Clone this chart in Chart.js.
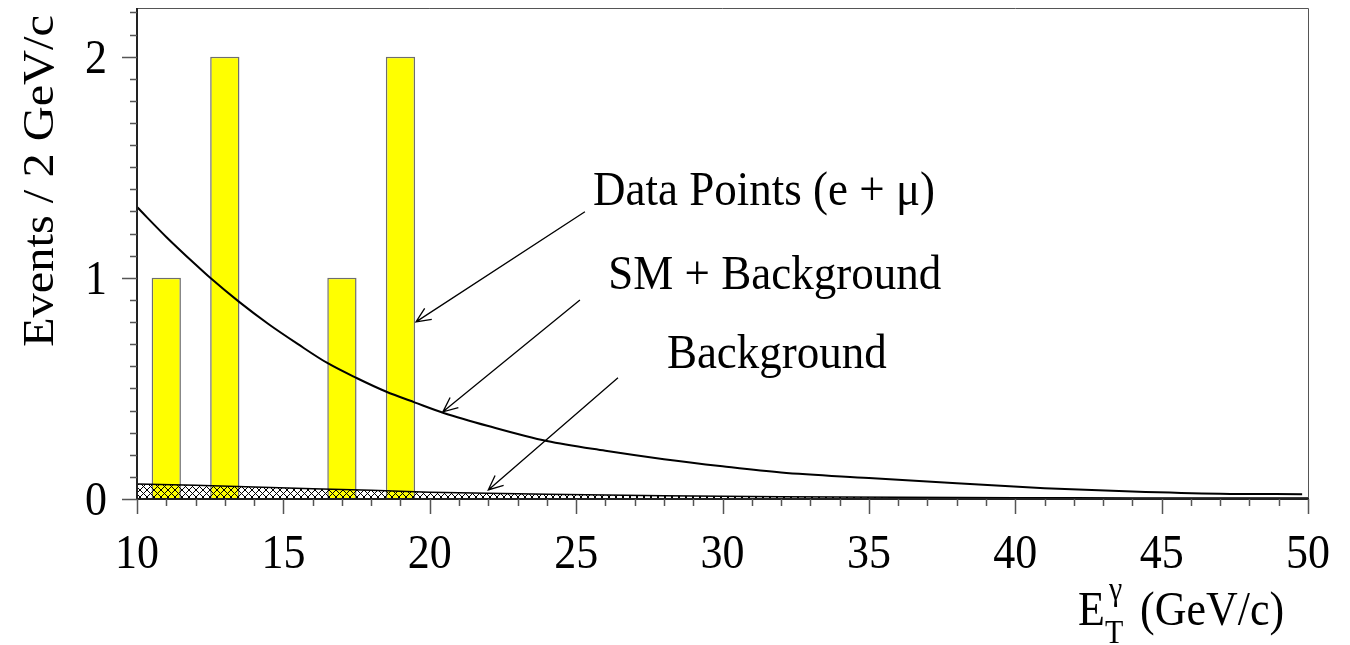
<!DOCTYPE html>
<html>
<head>
<meta charset="utf-8">
<script src="https://cdn.jsdelivr.net/npm/chart.js@4.4.1/dist/chart.umd.min.js"></script>
<style>
  html, body { margin: 0; padding: 0; background: #fff; }
  #wrap { width: 1350px; height: 645px; }
</style>
</head>
<body>
<div id="wrap"><canvas id="plot" width="1350" height="645"></canvas></div>
<script>
// --- data ---
const binCenters = [11, 13, 17, 19];
const eventCounts = [1, 2, 1, 2];

// SM + background expectation (solid curve)
const smX = [10, 11, 12, 12.5, 13.5, 14.5, 15.5, 16.5, 17.5, 18.5, 19.5, 20.5, 22, 24, 26, 28, 30, 32, 35, 38, 41, 44, 47, 49.8];
const smY = [1.32, 1.185, 1.06, 1.0, 0.89, 0.79, 0.70, 0.615, 0.547, 0.486, 0.436, 0.388, 0.33, 0.262, 0.218, 0.18, 0.148, 0.12, 0.095, 0.071, 0.049, 0.034, 0.024, 0.022];

// background only (hatched)
const bgX = [10, 12, 14, 16, 18, 20, 22, 24, 26, 28, 30, 32, 34, 36, 38, 40, 42, 44, 46, 48, 50];
const bgY = [0.068, 0.062, 0.054, 0.046, 0.039, 0.031, 0.026, 0.021, 0.018, 0.015, 0.012, 0.010, 0.009, 0.008, 0.007, 0.006, 0.006, 0.005, 0.005, 0.005, 0.005];

const xMin = 10, xMax = 50, yMin = 0, yMax = 2.22;
const xTickLabels = [10, 15, 20, 25, 30, 35, 40, 45, 50];
const yTickLabels = [0, 1, 2];

// labels with arrows (data coordinates)
const noteText = ['Data Points (e + \u03bc)', 'SM + Background', 'Background'];
const noteAt = [[25.58, 1.33], [26.1, 0.95], [28.1, 0.593]];
const arrowFrom = [[25.3, 1.299], [25.13, 0.90], [26.43, 0.548]];
const arrowTo = [[19.53, 0.801], [20.45, 0.394], [22.0, 0.041]];

const serif = '"Liberation Serif", "Times New Roman", serif';
const stretch = 1.1; // glyphs in the original are a bit taller than wide

// cross-hatch pattern for the background histogram
function makeHatch() {
    const c = document.createElement('canvas');
    c.width = 7; c.height = 7;
    const g = c.getContext('2d');
    g.strokeStyle = '#000';
    g.lineWidth = 1;
    g.beginPath();
    g.moveTo(0, 0); g.lineTo(7, 7);
    g.moveTo(7, 0); g.lineTo(0, 7);
    g.stroke();
    return document.getElementById('plot').getContext('2d').createPattern(c, 'repeat');
}

function txt(ctx, s, x, y, size, align, rot) {
    ctx.save();
    ctx.translate(x, y);
    ctx.scale(1, stretch);
    if (rot) ctx.rotate(rot);
    ctx.font = size + 'px ' + serif;
    ctx.textAlign = align || 'left';
    ctx.textBaseline = 'alphabetic';
    ctx.fillText(s, 0, 0);
    ctx.restore();
}

const decorPlugin = {
    id: 'decor',
    afterDraw(chart) {
        const ctx = chart.ctx;
        const xs = chart.scales.x, ys = chart.scales.y;
        const a = chart.chartArea;
        ctx.save();

        // frame
        ctx.strokeStyle = '#555';
        ctx.lineWidth = 1;
        ctx.beginPath();
        ctx.moveTo(a.left, a.top + 0.5); ctx.lineTo(a.right + 0.5, a.top + 0.5);
        ctx.lineTo(a.right + 0.5, a.bottom);
        ctx.stroke();
        ctx.strokeStyle = '#222';
        ctx.lineWidth = 2;
        ctx.beginPath();
        ctx.moveTo(a.left, a.top); ctx.lineTo(a.left, a.bottom);
        ctx.lineTo(a.right + 1, a.bottom);
        ctx.stroke();

        // x ticks: major every 5, minor every 1, pointing down
        ctx.strokeStyle = '#555';
        ctx.lineWidth = 1.5;
        ctx.beginPath();
        for (let v = xMin; v <= xMax; v++) {
            const px = Math.round(xs.getPixelForValue(v)) + 0.5;
            const len = (v % 5 === 0) ? 15 : 7;
            ctx.moveTo(px, a.bottom); ctx.lineTo(px, a.bottom + len);
        }
        // y ticks: major every 1, minor every 0.1, pointing left
        for (let i = 0; i * 0.1 <= yMax + 1e-9; i++) {
            const py = Math.round(ys.getPixelForValue(i * 0.1)) + 0.5;
            const len = (i % 10 === 0) ? 15 : 7;
            ctx.moveTo(a.left, py); ctx.lineTo(a.left - len, py);
        }
        ctx.stroke();

        // tick labels
        ctx.fillStyle = '#000';
        xTickLabels.forEach(v => txt(ctx, String(v), xs.getPixelForValue(v), 568, 44, 'center'));
        yTickLabels.forEach(v => txt(ctx, String(v), a.left - 30, ys.getPixelForValue(v) + 16, 44, 'right'));

        // y title
        txt(ctx, 'Events / 2 GeV/c', 53, 15, 44, 'right', -Math.PI / 2);

        // x title: E_T^gamma (GeV/c)
        txt(ctx, 'E', 1078, 625, 44);
        txt(ctx, '\u03b3', 1109, 600, 30);
        txt(ctx, 'T', 1105, 643, 30);
        txt(ctx, '(GeV/c)', 1140, 625, 44);

        // notes with arrows
        ctx.lineWidth = 1.3;
        ctx.strokeStyle = '#000';
        for (let i = 0; i < noteText.length; i++) {
            txt(ctx, noteText[i], xs.getPixelForValue(noteAt[i][0]), ys.getPixelForValue(noteAt[i][1]), 45);

            const x0 = xs.getPixelForValue(arrowFrom[i][0]);
            const y0 = ys.getPixelForValue(arrowFrom[i][1]);
            const x1 = xs.getPixelForValue(arrowTo[i][0]);
            const y1 = ys.getPixelForValue(arrowTo[i][1]);
            const ang = Math.atan2(y1 - y0, x1 - x0);
            const h = 16, spread = 0.42;
            ctx.beginPath();
            ctx.moveTo(x0, y0); ctx.lineTo(x1, y1);
            ctx.moveTo(x1 - h * Math.cos(ang - spread), y1 - h * Math.sin(ang - spread));
            ctx.lineTo(x1, y1);
            ctx.lineTo(x1 - h * Math.cos(ang + spread), y1 - h * Math.sin(ang + spread));
            ctx.stroke();
        }
        ctx.restore();
    }
};

const ctxMain = document.getElementById('plot').getContext('2d');
const hatch = makeHatch();

const chart = new Chart(ctxMain, {
    type: 'bar',
    data: {
        datasets: [
            {
                type: 'line',
                label: 'SM + Background',
                data: smX.map((x, i) => ({ x: x, y: smY[i] })),
                borderColor: '#000',
                borderWidth: 2,
                pointRadius: 0,
                cubicInterpolationMode: 'monotone',
                fill: false,
                order: 0
            },
            {
                type: 'line',
                label: 'Background',
                data: bgX.map((x, i) => ({ x: x, y: bgY[i] })),
                borderColor: '#000',
                borderWidth: 1.5,
                backgroundColor: hatch,
                pointRadius: 0,
                fill: 'origin',
                order: 1
            },
            {
                type: 'bar',
                label: 'Data Points (e + \u03bc)',
                data: binCenters.map((x, i) => ({ x: x, y: eventCounts[i] })),
                backgroundColor: '#ffff00',
                borderColor: '#6e6e6e',
                borderWidth: 1.5,
                borderSkipped: 'bottom',
                categoryPercentage: 0.5,
                barPercentage: 1.0,
                order: 2
            }
        ]
    },
    options: {
        responsive: false,
        animation: false,
        layout: { padding: { left: 0, top: 8, right: 42, bottom: 0 } },
        plugins: { legend: { display: false }, tooltip: { enabled: false } },
        scales: {
            x: {
                type: 'linear',
                min: xMin, max: xMax,
                offset: false,
                grid: { display: false, drawTicks: false },
                border: { display: false },
                ticks: { display: false, stepSize: 5 },
                afterFit(scale) { scale.height = 146; }
            },
            y: {
                type: 'linear',
                min: yMin, max: yMax,
                grid: { display: false, drawTicks: false },
                border: { display: false },
                ticks: { display: false, stepSize: 1 },
                afterFit(scale) { scale.width = 137; }
            }
        }
    },
    plugins: [decorPlugin]
});
</script>
</body>
</html>
